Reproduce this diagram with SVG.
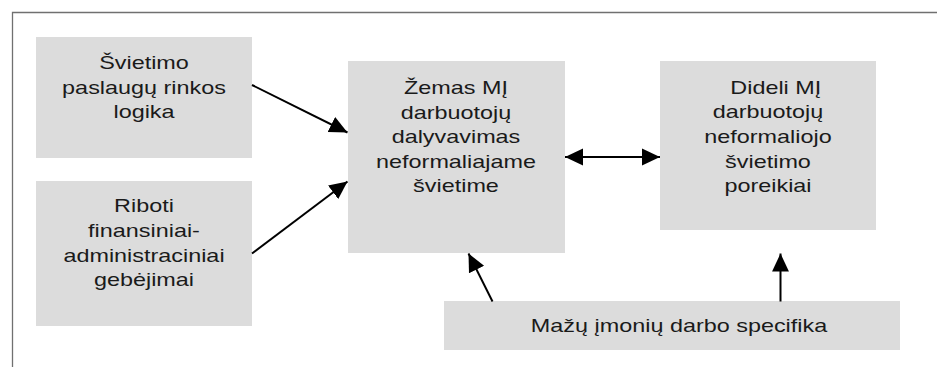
<svg xmlns="http://www.w3.org/2000/svg" width="937" height="367" viewBox="0 0 937 367">
<style>
.box{fill:#dcdcdc;}
.t{font-family:"Liberation Sans",Arial,sans-serif;font-size:18px;fill:#1a1a1a;text-anchor:middle;}
.c{stroke:#000;stroke-width:2;fill:none;}
.frame{stroke:#707070;stroke-width:1.3;fill:none;}
</style>
<defs>
<marker id="ah" markerUnits="userSpaceOnUse" markerWidth="18" markerHeight="18" viewBox="0 0 16 16" refX="16" refY="8" orient="auto-start-reverse">
<path d="M0,0.5 L16,8 L0,15.5 Z" fill="#000"/>
</marker>
</defs>
<path class="frame" d="M12.5,367 L12.5,12.5 L937,12.5"/>
<g id="node-svietimo-logika">
<rect class="box" x="36" y="37" width="216" height="121"/>
<g transform="translate(144,0) scale(1.3,1)">
<text class="t" x="0" y="69.5">Švietimo</text>
<text class="t" x="0" y="94">paslaugų rinkos</text>
<text class="t" x="0" y="118.5">logika</text>
</g>
</g>
<g id="node-riboti">
<rect class="box" x="36" y="181" width="216" height="145"/>
<g transform="translate(144,0) scale(1.3,1)">
<text class="t" x="0" y="212">Riboti</text>
<text class="t" x="0" y="237">finansiniai-</text>
<text class="t" x="0" y="262">administraciniai</text>
<text class="t" x="0" y="286.5">gebėjimai</text>
</g>
</g>
<g id="node-zemas">
<rect class="box" x="348" y="61" width="217" height="192"/>
<g transform="translate(456,0) scale(1.3,1)">
<text class="t" x="0" y="94.5">Žemas MĮ</text>
<text class="t" x="0" y="119">darbuotojų</text>
<text class="t" x="0" y="143.5">dalyvavimas</text>
<text class="t" x="0" y="168">neformaliajame</text>
<text class="t" x="0" y="192.5">švietime</text>
</g>
</g>
<g id="node-dideli">
<rect class="box" x="660" y="61" width="216" height="169"/>
<g transform="translate(768,0) scale(1.3,1)">
<text class="t" x="6" y="94">Dideli MĮ</text>
<text class="t" x="0" y="118.5">darbuotojų</text>
<text class="t" x="0" y="143">neformaliojo</text>
<text class="t" x="0" y="168">švietimo</text>
<text class="t" x="0" y="192.5">poreikiai</text>
</g>
</g>
<g id="node-mazu">
<rect class="box" x="444" y="301" width="456" height="49"/>
<g transform="translate(679,0) scale(1.3,1)">
<text class="t" x="0" y="332">Mažų įmonių darbo specifika</text>
</g>
</g>
<g id="connectors">
<line class="c" x1="252" y1="85" x2="347.5" y2="132.5" marker-end="url(#ah)"/>
<line class="c" x1="252" y1="253.5" x2="347.5" y2="181.5" marker-end="url(#ah)"/>
<line class="c" x1="565" y1="157" x2="660" y2="157" marker-start="url(#ah)" marker-end="url(#ah)"/>
<line class="c" x1="492.5" y1="301.5" x2="468.5" y2="253.5" marker-end="url(#ah)"/>
<line class="c" x1="780.5" y1="301.5" x2="780.5" y2="253.5" marker-end="url(#ah)"/>
</g>
</svg>
